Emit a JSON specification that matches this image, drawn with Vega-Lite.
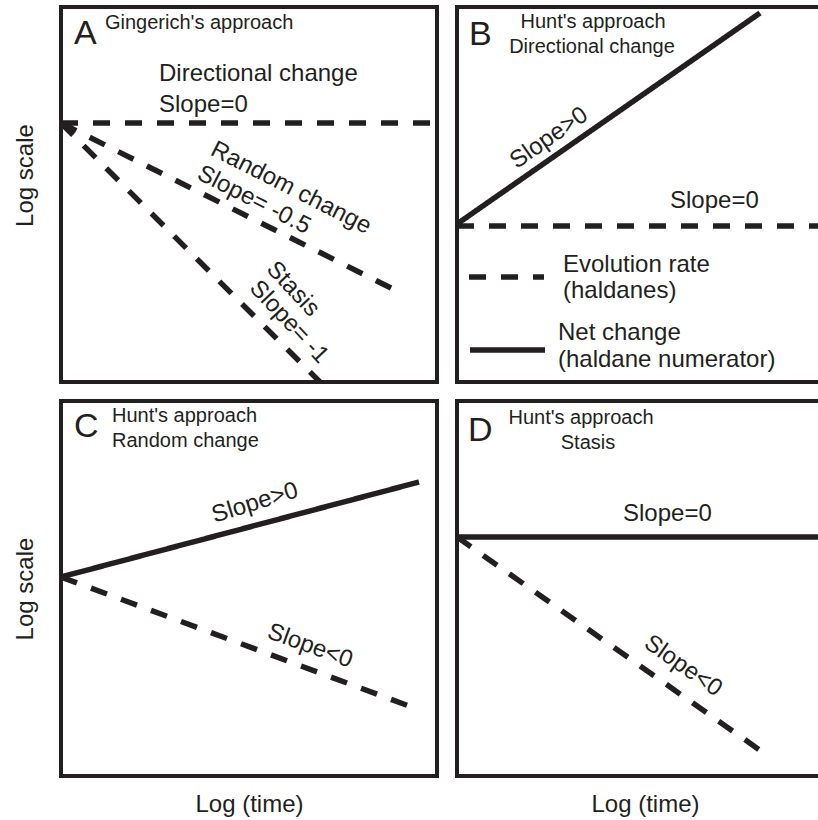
{
  "$schema": "https://vega.github.io/schema/vega-lite/v6.json",
  "padding": {"left": 11, "top": 5, "right": 0, "bottom": 0},
  "autosize": {"type": "pad"},
  "config": {
    "font": "Liberation Sans",
    "view": {"stroke": "#231f20", "strokeWidth": 4},
    "axis": {"domain": false, "ticks": false, "labels": false, "grid": false, "titleFontSize": 24, "titleFontWeight": "normal", "titleColor": "#231f20", "titleFont": "Liberation Sans"},
    "axisLeft": {"titlePadding": 24},
    "axisBottom": {"titlePadding": 16},
    "text": {"font": "Liberation Sans", "color": "#231f20"},
    "line": {"color": "#231f20", "strokeWidth": 5.5}
  },
  "datasets": {
    "lines": [
      {"panel": "A", "series": "A_dir", "kind": "rate", "x": 0, "y": 259},
      {"panel": "A", "series": "A_dir", "kind": "rate", "x": 376, "y": 259},
      {"panel": "A", "series": "A_rand", "kind": "rate", "x": 0, "y": 259},
      {"panel": "A", "series": "A_rand", "kind": "rate", "x": 334, "y": 92},
      {"panel": "A", "series": "A_stasis", "kind": "rate", "x": 0, "y": 259},
      {"panel": "A", "series": "A_stasis", "kind": "rate", "x": 259, "y": 0},
      {"panel": "B", "series": "B_net", "kind": "net", "x": 0, "y": 158},
      {"panel": "B", "series": "B_net", "kind": "net", "x": 303, "y": 369},
      {"panel": "B", "series": "B_rate", "kind": "rate", "x": 0, "y": 156},
      {"panel": "B", "series": "B_rate", "kind": "rate", "x": 376, "y": 156},
      {"panel": "B", "series": "B_leg_rate", "kind": "rate", "x": 12, "y": 105},
      {"panel": "B", "series": "B_leg_rate", "kind": "rate", "x": 87, "y": 105},
      {"panel": "B", "series": "B_leg_net", "kind": "net", "x": 13, "y": 32},
      {"panel": "B", "series": "B_leg_net", "kind": "net", "x": 88, "y": 32},
      {"panel": "C", "series": "C_net", "kind": "net", "x": 0, "y": 199},
      {"panel": "C", "series": "C_net", "kind": "net", "x": 358, "y": 294},
      {"panel": "C", "series": "C_rate", "kind": "rate", "x": 0, "y": 199},
      {"panel": "C", "series": "C_rate", "kind": "rate", "x": 348, "y": 70},
      {"panel": "D", "series": "D_net", "kind": "net", "x": 0, "y": 239},
      {"panel": "D", "series": "D_net", "kind": "net", "x": 376, "y": 239},
      {"panel": "D", "series": "D_rate", "kind": "rate", "x": 0, "y": 239},
      {"panel": "D", "series": "D_rate", "kind": "rate", "x": 304, "y": 25}
    ],
    "labels": [
      {"id": "A_letter", "text": "A", "x": 13, "y": 338},
      {"id": "A_title", "text": "Gingerich's approach", "x": 44, "y": 353},
      {"id": "A_dir", "text": "Directional change", "x": 98, "y": 301},
      {"id": "A_slope0", "text": "Slope=0", "x": 98, "y": 270},
      {"id": "A_rand", "text": "Random change", "x": 230, "y": 194},
      {"id": "A_rand_slope", "text": "Slope= -0.5", "x": 193, "y": 182},
      {"id": "A_stasis", "text": "Stasis", "x": 232, "y": 93},
      {"id": "A_stasis_slope", "text": "Slope= -1", "x": 228, "y": 60},
      {"id": "B_letter", "text": "B", "x": 12, "y": 337},
      {"id": "B_title1", "text": "Hunt's approach", "x": 136, "y": 354},
      {"id": "B_title2", "text": "Directional change", "x": 135, "y": 329},
      {"id": "B_slope_pos", "text": "Slope>0", "x": 92, "y": 244},
      {"id": "B_slope0", "text": "Slope=0", "x": 213, "y": 174},
      {"id": "B_leg1a", "text": "Evolution rate", "x": 106, "y": 110},
      {"id": "B_leg1b", "text": "(haldanes)", "x": 106, "y": 84},
      {"id": "B_leg2a", "text": "Net change", "x": 101, "y": 42},
      {"id": "B_leg2b", "text": "(haldane numerator)", "x": 101, "y": 15},
      {"id": "C_letter", "text": "C", "x": 13, "y": 339},
      {"id": "C_title1", "text": "Hunt's approach", "x": 51, "y": 354},
      {"id": "C_title2", "text": "Random change", "x": 51, "y": 329},
      {"id": "C_slope_pos", "text": "Slope>0", "x": 194, "y": 273},
      {"id": "C_slope_neg", "text": "Slope<0", "x": 249, "y": 130},
      {"id": "D_letter", "text": "D", "x": 11, "y": 335},
      {"id": "D_title1", "text": "Hunt's approach", "x": 124, "y": 352},
      {"id": "D_title2", "text": "Stasis", "x": 131, "y": 327},
      {"id": "D_slope0", "text": "Slope=0", "x": 166, "y": 255},
      {"id": "D_slope_neg", "text": "Slope<0", "x": 226, "y": 110}
    ]
  },
  "columns": 2,
  "spacing": {"row": 19, "column": 20},
  "bounds": "flush",
  "concat": [
    {
      "width": 376, "height": 375,
      "encoding": {
        "x": {"field": "x", "type": "quantitative", "scale": {"domain": [0, 376], "nice": false}, "axis": null},
        "y": {"field": "y", "type": "quantitative", "scale": {"domain": [0, 375], "nice": false}, "axis": {"title": "Log scale", "titleY": 168}}
      },
      "layer": [
        {"data": {"name": "lines"}, "transform": [{"filter": "datum.panel === 'A'"}], "mark": {"type": "line", "clip": true},
         "encoding": {"detail": {"field": "series"}, "strokeDash": {"field": "kind", "type": "nominal", "scale": {"domain": ["rate", "net"], "range": [[17, 15], [1, 0]]}, "legend": null}}},
        {"data": {"name": "labels"}, "transform": [{"filter": {"field": "id", "oneOf": ["A_letter"]}}], "mark": {"type": "text", "fontSize": 34, "align": "left", "baseline": "alphabetic"}, "encoding": {"text": {"field": "text"}}},
        {"data": {"name": "labels"}, "transform": [{"filter": {"field": "id", "oneOf": ["A_title"]}}], "mark": {"type": "text", "fontSize": 20, "align": "left", "baseline": "alphabetic"}, "encoding": {"text": {"field": "text"}}},
        {"data": {"name": "labels"}, "transform": [{"filter": {"field": "id", "oneOf": ["A_dir", "A_slope0"]}}], "mark": {"type": "text", "fontSize": 24, "align": "left", "baseline": "alphabetic"}, "encoding": {"text": {"field": "text"}}},
        {"data": {"name": "labels"}, "transform": [{"filter": {"field": "id", "oneOf": ["A_rand", "A_rand_slope"]}}], "mark": {"type": "text", "fontSize": 24, "align": "center", "baseline": "middle", "angle": 27}, "encoding": {"text": {"field": "text"}}},
        {"data": {"name": "labels"}, "transform": [{"filter": {"field": "id", "oneOf": ["A_stasis", "A_stasis_slope"]}}], "mark": {"type": "text", "fontSize": 24, "align": "center", "baseline": "middle", "angle": 47}, "encoding": {"text": {"field": "text"}}}
      ]
    },
    {
      "width": 376, "height": 375,
      "encoding": {
        "x": {"field": "x", "type": "quantitative", "scale": {"domain": [0, 376], "nice": false}, "axis": null},
        "y": {"field": "y", "type": "quantitative", "scale": {"domain": [0, 375], "nice": false}, "axis": null}
      },
      "layer": [
        {"data": {"name": "lines"}, "transform": [{"filter": "datum.panel === 'B'"}], "mark": {"type": "line", "clip": true},
         "encoding": {"detail": {"field": "series"}, "strokeDash": {"field": "kind", "type": "nominal", "scale": {"domain": ["rate", "net"], "range": [[17, 15], [1, 0]]}, "legend": null}}},
        {"data": {"name": "labels"}, "transform": [{"filter": {"field": "id", "oneOf": ["B_letter"]}}], "mark": {"type": "text", "fontSize": 34, "align": "left", "baseline": "alphabetic"}, "encoding": {"text": {"field": "text"}}},
        {"data": {"name": "labels"}, "transform": [{"filter": {"field": "id", "oneOf": ["B_title1", "B_title2"]}}], "mark": {"type": "text", "fontSize": 20, "align": "center", "baseline": "alphabetic"}, "encoding": {"text": {"field": "text"}}},
        {"data": {"name": "labels"}, "transform": [{"filter": {"field": "id", "oneOf": ["B_slope_pos"]}}], "mark": {"type": "text", "fontSize": 24, "align": "center", "baseline": "middle", "angle": -35}, "encoding": {"text": {"field": "text"}}},
        {"data": {"name": "labels"}, "transform": [{"filter": {"field": "id", "oneOf": ["B_slope0", "B_leg1a", "B_leg1b", "B_leg2a", "B_leg2b"]}}], "mark": {"type": "text", "fontSize": 24, "align": "left", "baseline": "alphabetic"}, "encoding": {"text": {"field": "text"}}}
      ]
    },
    {
      "width": 376, "height": 375,
      "encoding": {
        "x": {"field": "x", "type": "quantitative", "scale": {"domain": [0, 376], "nice": false}, "axis": {"title": "Log (time)"}},
        "y": {"field": "y", "type": "quantitative", "scale": {"domain": [0, 375], "nice": false}, "axis": {"title": "Log scale"}}
      },
      "layer": [
        {"data": {"name": "lines"}, "transform": [{"filter": "datum.panel === 'C'"}], "mark": {"type": "line", "clip": true},
         "encoding": {"detail": {"field": "series"}, "strokeDash": {"field": "kind", "type": "nominal", "scale": {"domain": ["rate", "net"], "range": [[17, 15], [1, 0]]}, "legend": null}}},
        {"data": {"name": "labels"}, "transform": [{"filter": {"field": "id", "oneOf": ["C_letter"]}}], "mark": {"type": "text", "fontSize": 34, "align": "left", "baseline": "alphabetic"}, "encoding": {"text": {"field": "text"}}},
        {"data": {"name": "labels"}, "transform": [{"filter": {"field": "id", "oneOf": ["C_title1", "C_title2"]}}], "mark": {"type": "text", "fontSize": 20, "align": "left", "baseline": "alphabetic"}, "encoding": {"text": {"field": "text"}}},
        {"data": {"name": "labels"}, "transform": [{"filter": {"field": "id", "oneOf": ["C_slope_pos"]}}], "mark": {"type": "text", "fontSize": 24, "align": "center", "baseline": "middle", "angle": -17}, "encoding": {"text": {"field": "text"}}},
        {"data": {"name": "labels"}, "transform": [{"filter": {"field": "id", "oneOf": ["C_slope_neg"]}}], "mark": {"type": "text", "fontSize": 24, "align": "center", "baseline": "middle", "angle": 20}, "encoding": {"text": {"field": "text"}}}
      ]
    },
    {
      "width": 376, "height": 375,
      "encoding": {
        "x": {"field": "x", "type": "quantitative", "scale": {"domain": [0, 376], "nice": false}, "axis": {"title": "Log (time)"}},
        "y": {"field": "y", "type": "quantitative", "scale": {"domain": [0, 375], "nice": false}, "axis": null}
      },
      "layer": [
        {"data": {"name": "lines"}, "transform": [{"filter": "datum.panel === 'D'"}], "mark": {"type": "line", "clip": true},
         "encoding": {"detail": {"field": "series"}, "strokeDash": {"field": "kind", "type": "nominal", "scale": {"domain": ["rate", "net"], "range": [[17, 15], [1, 0]]}, "legend": null}}},
        {"data": {"name": "labels"}, "transform": [{"filter": {"field": "id", "oneOf": ["D_letter"]}}], "mark": {"type": "text", "fontSize": 34, "align": "left", "baseline": "alphabetic"}, "encoding": {"text": {"field": "text"}}},
        {"data": {"name": "labels"}, "transform": [{"filter": {"field": "id", "oneOf": ["D_title1", "D_title2"]}}], "mark": {"type": "text", "fontSize": 20, "align": "center", "baseline": "alphabetic"}, "encoding": {"text": {"field": "text"}}},
        {"data": {"name": "labels"}, "transform": [{"filter": {"field": "id", "oneOf": ["D_slope0"]}}], "mark": {"type": "text", "fontSize": 24, "align": "left", "baseline": "alphabetic"}, "encoding": {"text": {"field": "text"}}},
        {"data": {"name": "labels"}, "transform": [{"filter": {"field": "id", "oneOf": ["D_slope_neg"]}}], "mark": {"type": "text", "fontSize": 24, "align": "center", "baseline": "middle", "angle": 35}, "encoding": {"text": {"field": "text"}}}
      ]
    }
  ]
}
